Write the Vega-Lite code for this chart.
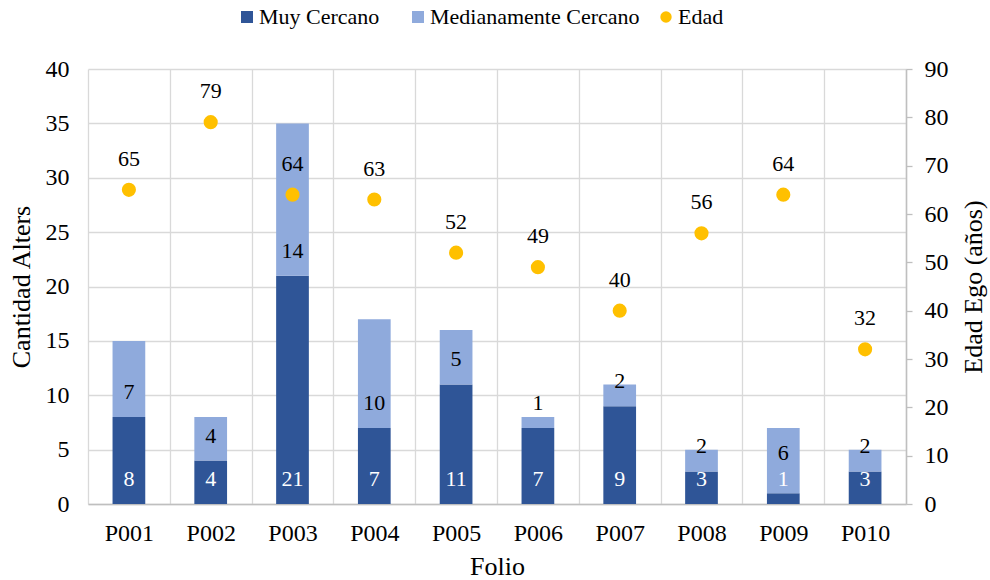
{
  "$schema": "https://vega.github.io/schema/vega-lite/v6.json",
  "autosize": {"type": "none"},
  "padding": {"left": 88, "top": 69, "right": 84, "bottom": 76},
  "width": 818,
  "height": 435,
  "background": "white",
  "config": {
    "font": "Liberation Serif",
    "view": {"stroke": null},
    "text": {"font": "Liberation Serif"},
    "legend": {"padding": 0, "labelFont": "Liberation Serif", "labelFontSize": 22, "labelColor": "black", "labelLimit": 0},
    "axis": {"labelFont": "Liberation Serif", "titleFont": "Liberation Serif", "labelColor": "black", "titleColor": "black", "titleFontWeight": "normal"}
  },
  "datasets": {
    "alters": [
      {"folio": "P001", "tipo": "Muy Cercano", "n": 8},
      {"folio": "P001", "tipo": "Medianamente Cercano", "n": 7},
      {"folio": "P002", "tipo": "Muy Cercano", "n": 4},
      {"folio": "P002", "tipo": "Medianamente Cercano", "n": 4},
      {"folio": "P003", "tipo": "Muy Cercano", "n": 21},
      {"folio": "P003", "tipo": "Medianamente Cercano", "n": 14},
      {"folio": "P004", "tipo": "Muy Cercano", "n": 7},
      {"folio": "P004", "tipo": "Medianamente Cercano", "n": 10},
      {"folio": "P005", "tipo": "Muy Cercano", "n": 11},
      {"folio": "P005", "tipo": "Medianamente Cercano", "n": 5},
      {"folio": "P006", "tipo": "Muy Cercano", "n": 7},
      {"folio": "P006", "tipo": "Medianamente Cercano", "n": 1},
      {"folio": "P007", "tipo": "Muy Cercano", "n": 9},
      {"folio": "P007", "tipo": "Medianamente Cercano", "n": 2},
      {"folio": "P008", "tipo": "Muy Cercano", "n": 3},
      {"folio": "P008", "tipo": "Medianamente Cercano", "n": 2},
      {"folio": "P009", "tipo": "Muy Cercano", "n": 1},
      {"folio": "P009", "tipo": "Medianamente Cercano", "n": 6},
      {"folio": "P010", "tipo": "Muy Cercano", "n": 3},
      {"folio": "P010", "tipo": "Medianamente Cercano", "n": 2}
    ],
    "edad": [
      {"folio": "P001", "edad": 65},
      {"folio": "P002", "edad": 79},
      {"folio": "P003", "edad": 64},
      {"folio": "P004", "edad": 63},
      {"folio": "P005", "edad": 52},
      {"folio": "P006", "edad": 49},
      {"folio": "P007", "edad": 40},
      {"folio": "P008", "edad": 56},
      {"folio": "P009", "edad": 64},
      {"folio": "P010", "edad": 32}
    ]
  },
  "layer": [
    {
      "data": {"name": "alters"},
      "transform": [
        {"calculate": "datum.tipo === 'Muy Cercano' ? 0 : 1", "as": "ord"},
        {"stack": "n", "groupby": ["folio"], "sort": [{"field": "ord"}], "as": ["n0", "n1"]},
        {"calculate": "datum.ord === 0 ? datum.n0 : max(datum.n0, 2.4)", "as": "ypos"}
      ],
      "layer": [
        {
          "mark": {"type": "bar", "width": {"band": 0.4}},
          "encoding": {
            "x": {
              "field": "folio", "type": "nominal", "sort": null,
              "scale": {"paddingInner": 0, "paddingOuter": 0},
              "axis": {
                "title": "Folio", "labelAngle": 0, "labelFontSize": 24, "titleFontSize": 26,
                "labelFont": "Liberation Serif", "titleFont": "Liberation Serif",
                "labelPadding": 17, "titlePadding": 8, "ticks": false, "tickBand": "extent",
                "grid": true, "gridColor": "#D9D9D9", "gridWidth": 1.3,
                "domainColor": "#BFBFBF", "domainWidth": 1.5
              }
            },
            "y": {
              "field": "n1", "type": "quantitative",
              "scale": {"domain": [0, 40]},
              "axis": {
                "title": "Cantidad Alters", "values": [0, 5, 10, 15, 20, 25, 30, 35, 40],
                "labelFont": "Liberation Serif", "titleFont": "Liberation Serif",
                "labelFontSize": 24, "titleFontSize": 26, "ticks": false, "domain": false,
                "labelPadding": 19, "titlePadding": 11,
                "grid": true, "gridColor": "#D9D9D9", "gridWidth": 1.3
              }
            },
            "y2": {"field": "n0"},
            "color": {
              "field": "tipo", "type": "nominal",
              "scale": {"domain": ["Muy Cercano", "Medianamente Cercano"], "range": ["#2F5597", "#8FAADC"]},
              "legend": {
                "title": null, "orient": "none", "direction": "horizontal",
                "legendX": 148, "legendY": -63, "symbolType": "square", "symbolSize": 144,
                "symbolStrokeWidth": 0, "labelOffset": 1, "columnPadding": 27,
                "labelFont": "Liberation Serif", "labelFontSize": 22, "labelLimit": 0
              }
            }
          }
        },
        {
          "mark": {"type": "text", "font": "Liberation Serif", "fontSize": 22, "baseline": "middle", "dy": -25},
          "encoding": {
            "x": {"field": "folio", "type": "nominal", "sort": null},
            "y": {"field": "ypos", "type": "quantitative", "stack": null},
            "text": {"field": "n", "type": "quantitative"},
            "color": {"condition": {"test": "datum.tipo === 'Muy Cercano'", "value": "white"}, "value": "black"}
          }
        }
      ]
    },
    {
      "data": {"name": "edad"},
      "layer": [
        {
          "mark": {"type": "point", "filled": true, "shape": "circle", "size": 200, "opacity": 1},
          "encoding": {
            "x": {"field": "folio", "type": "nominal", "sort": null},
            "y": {
              "field": "edad", "type": "quantitative",
              "scale": {"domain": [0, 90]},
              "axis": {
                "orient": "right", "title": "Edad Ego (años)", "titleAngle": -90, "titleBaseline": "top",
                "values": [0, 10, 20, 30, 40, 50, 60, 70, 80, 90],
                "labelFont": "Liberation Serif", "titleFont": "Liberation Serif",
                "labelFontSize": 24, "titleFontSize": 26, "grid": false,
                "ticks": true, "tickSize": 6, "tickColor": "#BFBFBF", "tickWidth": 1.3,
                "domainColor": "#BFBFBF", "domainWidth": 1.5,
                "labelPadding": 12, "titlePadding": 12
              }
            },
            "fill": {
              "datum": "Edad", "type": "nominal",
              "scale": {"domain": ["Edad"], "range": ["#FFC000"]},
              "legend": {
                "title": null, "orient": "none", "direction": "horizontal",
                "legendX": 567, "legendY": -63, "symbolType": "circle", "symbolSize": 130,
                "symbolStrokeWidth": 0, "labelOffset": 1,
                "labelFont": "Liberation Serif", "labelFontSize": 22, "labelLimit": 0
              }
            }
          }
        },
        {
          "mark": {"type": "text", "font": "Liberation Serif", "fontSize": 22, "baseline": "middle", "dy": -31, "color": "black"},
          "encoding": {
            "x": {"field": "folio", "type": "nominal", "sort": null},
            "y": {"field": "edad", "type": "quantitative"},
            "text": {"field": "edad", "type": "quantitative"}
          }
        }
      ]
    }
  ],
  "resolve": {"scale": {"y": "independent"}}
}
